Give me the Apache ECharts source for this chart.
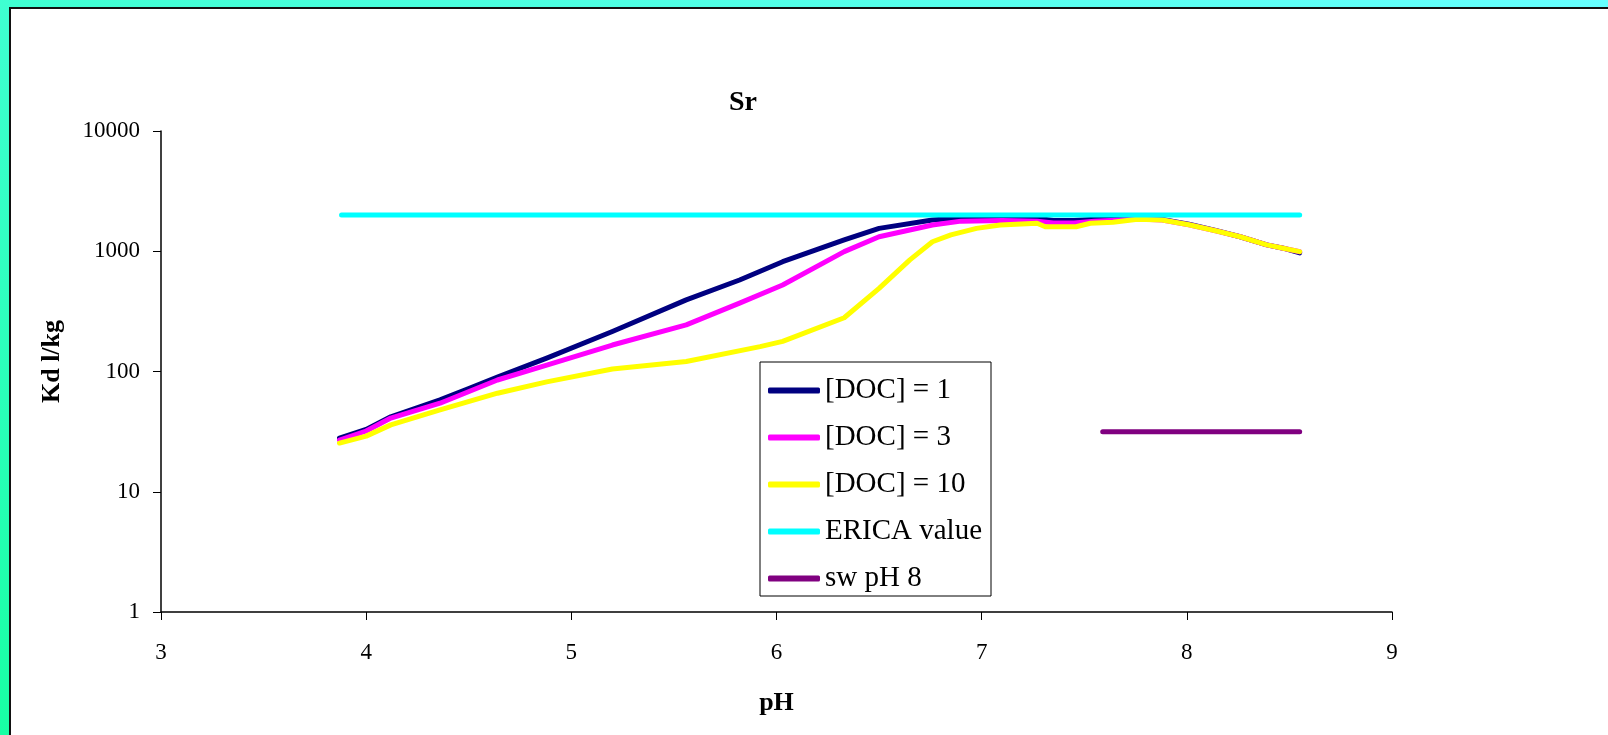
<!DOCTYPE html>
<html>
<head>
<meta charset="utf-8">
<script src="https://cdn.jsdelivr.net/npm/echarts@6/dist/echarts.min.js"></script>
<style>
  html, body { margin: 0; padding: 0; width: 1608px; height: 735px; overflow: hidden;
    background: linear-gradient(to top right, #18ffa4, #66ffff); }
  #panel { position: absolute; left: 9px; top: 7px; width: 1620px; height: 760px;
    background: #fff; border: 2px solid #111; box-sizing: border-box; }
  #chart { position: absolute; left: 0; top: 0; width: 1608px; height: 735px; }
</style>
</head>
<body>
<div id="panel"></div>
<div id="chart"></div>
<script>
// ---- data ----
const doc1pH  = [3.87, 4.0, 4.12, 4.36, 4.5, 4.64, 4.88, 5.2, 5.56, 5.82, 6.03, 6.33, 6.5, 6.76, 6.9, 7.1, 7.27, 7.35, 7.45, 7.55, 7.76, 7.88, 8.01, 8.14, 8.26, 8.39, 8.47, 8.55];
const doc1Kd  = [27.9, 33, 42, 58, 72, 90, 129, 215, 394, 577, 819, 1242, 1550, 1820, 1900, 1900, 1880, 1800, 1800, 1850, 1880, 1840, 1680, 1490, 1320, 1130, 1060, 970];

const doc3pH  = [3.87, 4.0, 4.12, 4.36, 4.64, 4.88, 5.2, 5.56, 5.82, 6.03, 6.33, 6.5, 6.76, 6.9, 7.1, 7.27, 7.35, 7.45, 7.55, 7.76, 7.88, 8.01, 8.14, 8.26, 8.39, 8.47, 8.55];
const doc3Kd  = [26.9, 32, 41, 54.5, 85, 113, 166, 244, 370, 524, 993, 1320, 1655, 1780, 1800, 1780, 1720, 1720, 1780, 1850, 1820, 1660, 1480, 1320, 1130, 1060, 990];

const doc10pH = [3.87, 4.0, 4.12, 4.36, 4.64, 4.88, 5.2, 5.56, 5.92, 6.03, 6.33, 6.5, 6.65, 6.76, 6.85, 6.975, 7.09, 7.27, 7.31, 7.46, 7.53, 7.64, 7.76, 7.88, 8.01, 8.14, 8.26, 8.39, 8.47, 8.55];
const doc10Kd = [25.4, 29, 36, 48, 66, 82, 105, 121, 161, 178, 280, 491, 848, 1200, 1370, 1550, 1655, 1710, 1600, 1600, 1710, 1740, 1845, 1820, 1660, 1480, 1320, 1130, 1060, 993];

const ericaPH = [3.88, 8.55];
const ericaKd = [2000, 2000];

const swPH = [7.59, 8.55];
const swKd = [31.6, 31.6];

const seriesNames = ['[DOC] = 1', '[DOC] = 3', '[DOC] = 10', 'ERICA value', 'sw pH 8'];
const seriesColors = ['#000080', '#ff00ff', '#ffff00', '#00ffff', '#800080'];
const xTicks = [3, 4, 5, 6, 7, 8, 9];
const yTicks = [1, 10, 100, 1000, 10000];

// ---- chart ----
const zip = (xs, ys) => xs.map((x, i) => [x, ys[i]]);
const seriesData = [zip(doc1pH, doc1Kd), zip(doc3pH, doc3Kd), zip(doc10pH, doc10Kd), zip(ericaPH, ericaKd), zip(swPH, swKd)];
const FONT = "'Liberation Serif', 'Times New Roman', serif";

const chart = echarts.init(document.getElementById('chart'), null, { renderer: 'canvas' });
chart.setOption({
  backgroundColor: 'transparent',
  animation: false,
  title: {
    text: 'Sr', left: 724, top: 84,
    textStyle: { fontFamily: FONT, fontWeight: 'bold', fontSize: 28, color: '#000' }
  },
  grid: { left: 161, right: 216, top: 131, bottom: 123, containLabel: false },
  legend: {
    orient: 'vertical', left: 760, top: 362,
    backgroundColor: '#fff', borderColor: '#000', borderWidth: 1,
    padding: [14, 6, 3, 8],
    itemWidth: 52, itemHeight: 6, itemGap: 18,
    icon: 'roundRect',
    data: seriesNames,
    textStyle: { fontFamily: FONT, fontSize: 29, color: '#000', lineHeight: 26, width: 160 }
  },
  xAxis: {
    type: 'value', min: xTicks[0], max: xTicks[xTicks.length - 1], interval: 1,
    name: 'pH', nameLocation: 'middle', nameGap: 78,
    nameTextStyle: { fontFamily: FONT, fontWeight: 'bold', fontSize: 26, color: '#000' },
    axisLine: { show: true, onZero: false, lineStyle: { color: '#000', width: 1.5 } },
    axisTick: { show: true, inside: false, length: 8, lineStyle: { color: '#000' } },
    axisLabel: { margin: 29, fontFamily: FONT, fontSize: 23, color: '#000' },
    splitLine: { show: false }
  },
  yAxis: {
    type: 'log', logBase: 10, min: yTicks[0], max: yTicks[yTicks.length - 1],
    name: 'Kd l/kg', nameLocation: 'middle', nameGap: 96, nameRotate: 90,
    nameTextStyle: { fontFamily: FONT, fontWeight: 'bold', fontSize: 26, color: '#000', padding: [0, 0, 0, 20] },
    axisLine: { show: true, lineStyle: { color: '#000', width: 1.5 } },
    axisTick: { show: true, inside: false, length: 8, lineStyle: { color: '#000' } },
    axisLabel: { margin: 21, fontFamily: FONT, fontSize: 23, color: '#000',
      formatter: v => String(Math.round(v)) },
    splitLine: { show: false },
    minorTick: { show: false }
  },
  series: seriesNames.map((n, i) => ({
    name: n, type: 'line', data: seriesData[i],
    symbol: 'none', smooth: false, z: 2 + i,
    color: seriesColors[i],
    lineStyle: { color: seriesColors[i], width: 5, cap: 'round', join: 'round' }
  }))
});
</script>
</body>
</html>
